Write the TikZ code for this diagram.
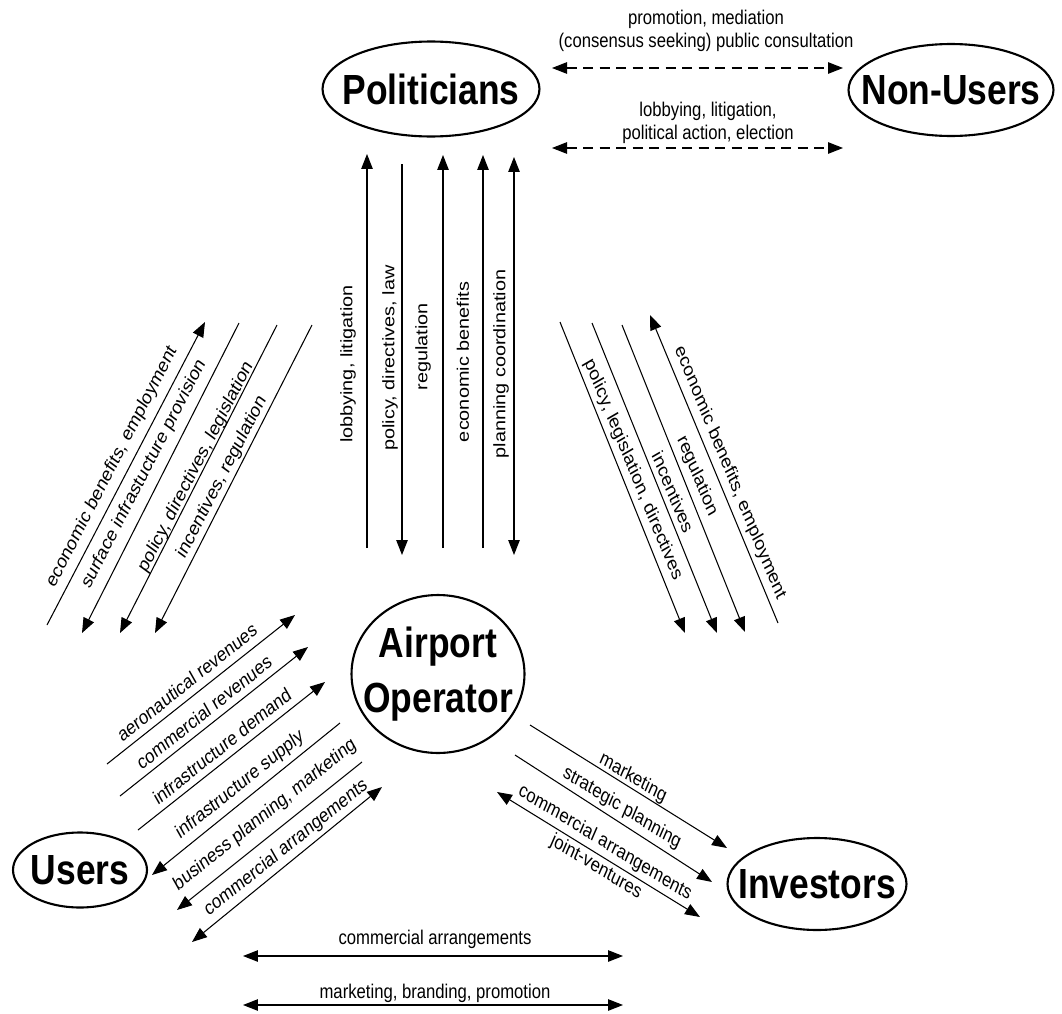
\documentclass[tikz,border=0pt]{standalone}
\usepackage{graphicx}
\usepackage{fontspec}
\setmainfont{Liberation Sans}
\usetikzlibrary{arrows.meta,shapes.geometric}
\newcommand\mylbl{\fontsize{11.3pt}{13.5pt}\selectfont}
\newcommand\mybig{\bfseries\fontsize{24pt}{31pt}\selectfont}
\newcommand\narrow[1]{\makebox[0pt]{\scalebox{0.84}[1]{#1}}}
\begin{document}
\begin{tikzpicture}[x=0.02cm, y=-0.02cm,
  >={Triangle[length=0.3cm,width=0.23cm]},
  ent/.style={ellipse, draw, line width=1.2pt, inner sep=0pt, font=\mybig},
  lbl/.style={font=\mylbl, inner sep=0pt, xscale=0.84},
  arr/.style={line width=0.6pt},
  dsh/.style={line width=0.6pt, dash pattern=on 0.2cm off 0.13cm}]
\useasboundingbox (0,0) rectangle (1062,1014);

% entities
\node[ent, minimum width=4.34cm, minimum height=1.9cm] (pol) at (431,89) {\narrow{Politicians}};
\node[ent, minimum width=4.1cm, minimum height=1.84cm] (non) at (951,90) {\narrow{Non-Users}};
\node[ent, minimum width=3.46cm, minimum height=3.16cm] (apt) at (438,674) {\narrow{\begin{tabular}{@{}c@{}}Airport\\Operator\end{tabular}}};
\node[ent, minimum width=2.68cm, minimum height=1.5cm] (usr) at (80,870) {\narrow{Users}};
\node[ent, minimum width=3.58cm, minimum height=1.84cm] (inv) at (817,884) {\narrow{Investors}};

% coordinates of connector ends
\coordinate (d1s) at (552,68);  \coordinate (d1e) at (843,68);
\coordinate (d2s) at (552,148); \coordinate (d2e) at (843,148);
\coordinate (v1s) at (367,548); \coordinate (v1e) at (367,154);
\coordinate (v2s) at (402,164); \coordinate (v2e) at (402,555);
\coordinate (v3s) at (443,548); \coordinate (v3e) at (443,155);
\coordinate (v4s) at (483,548); \coordinate (v4e) at (483,155);
\coordinate (v5s) at (514,157); \coordinate (v5e) at (514,555);
\coordinate (a1s) at (47,625);  \coordinate (a1e) at (205,322);
\coordinate (a2s) at (239,323); \coordinate (a2e) at (82,633);
\coordinate (a3s) at (277,325); \coordinate (a3e) at (120,633);
\coordinate (a4s) at (312,325); \coordinate (a4e) at (155,633);
\coordinate (b1s) at (560,322); \coordinate (b1e) at (685,633);
\coordinate (b2s) at (592,323); \coordinate (b2e) at (717,633);
\coordinate (b3s) at (622,325); \coordinate (b3e) at (745,632);
\coordinate (b4s) at (778,623); \coordinate (b4e) at (650,315);
\coordinate (u1s) at (107,764); \coordinate (u1e) at (295,615);
\coordinate (u2s) at (120,796); \coordinate (u2e) at (308,647);
\coordinate (u3s) at (138,830); \coordinate (u3e) at (325,682);
\coordinate (u4s) at (340,723); \coordinate (u4e) at (152,875);
\coordinate (u5s) at (362,762); \coordinate (u5e) at (177,910);
\coordinate (u6s) at (192,942); \coordinate (u6e) at (382,787);
\coordinate (i1s) at (530,725); \coordinate (i1e) at (727,848);
\coordinate (i2s) at (515,755); \coordinate (i2e) at (712,882);
\coordinate (i3s) at (497,792); \coordinate (i3e) at (700,917);
\coordinate (h1s) at (243,956); \coordinate (h1e) at (623,956);
\coordinate (h2s) at (243,1005); \coordinate (h2e) at (623,1005);

% connectors
\draw[dsh, <->] (d1s) -- (d1e);
\draw[dsh, <->] (d2s) -- (d2e);
\draw[arr, ->] (v1s) -- (v1e);
\draw[arr, ->] (v2s) -- (v2e);
\draw[arr, ->] (v3s) -- (v3e);
\draw[arr, ->] (v4s) -- (v4e);
\draw[arr, <->] (v5s) -- (v5e);
\draw[arr, ->] (a1s) -- (a1e);
\draw[arr, ->] (a2s) -- (a2e);
\draw[arr, ->] (a3s) -- (a3e);
\draw[arr, ->] (a4s) -- (a4e);
\draw[arr, ->] (b1s) -- (b1e);
\draw[arr, ->] (b2s) -- (b2e);
\draw[arr, ->] (b3s) -- (b3e);
\draw[arr, ->] (b4s) -- (b4e);
\draw[arr, ->] (u1s) -- (u1e);
\draw[arr, ->] (u2s) -- (u2e);
\draw[arr, ->] (u3s) -- (u3e);
\draw[arr, ->] (u4s) -- (u4e);
\draw[arr, ->] (u5s) -- (u5e);
\draw[arr, <->] (u6s) -- (u6e);
\draw[arr, ->] (i1s) -- (i1e);
\draw[arr, ->] (i2s) -- (i2e);
\draw[arr, <->] (i3s) -- (i3e);
\draw[arr, <->] (h1s) -- (h1e);
\draw[arr, <->] (h2s) -- (h2e);

% labels
\node[lbl, align=center] (lt1) at (706,31) {promotion, mediation\\(consensus seeking) public consultation};
\node[lbl, align=center] (lt2) at (708,123) {lobbying, litigation,\\political action, election};

\node[lbl, rotate=90] (lv1) at (348,364) {lobbying, litigation};
\node[lbl, rotate=90] (lv2) at (390,358) {policy, directives, law};
\node[lbl, rotate=90] (lv3) at (423,347) {regulation};
\node[lbl, rotate=90] (lv4) at (463,362) {economic benefits};
\node[lbl, rotate=90] (lv5) at (501,364) {planning coordination};

\node[lbl, rotate=58.5] (la1) at (112,467) {economic benefits, employment};
\node[lbl, rotate=58.5] (la2) at (144,474) {surface infrastucture provision};
\node[lbl, rotate=58.5] (la3) at (196,467) {policy, directives, legislation};
\node[lbl, rotate=58.5] (la4) at (222,477) {incentives, regulation};

\node[lbl, rotate=-64] (lb1) at (633,470) {policy, legislation, directives};
\node[lbl, rotate=-64] (lb2) at (673,492) {incentives};
\node[lbl, rotate=-64] (lb3) at (697,476) {regulation};
\node[lbl, rotate=-64] (lb4) at (730,473) {economic benefits, employment};

\node[lbl, rotate=34] (lu1) at (187,682) {aeronautical revenues};
\node[lbl, rotate=34] (lu2) at (204,712) {commercial revenues};
\node[lbl, rotate=34] (lu3) at (222,746) {infrastructure demand};
\node[lbl, rotate=34] (lu4) at (240,785) {infrastructure supply};
\node[lbl, rotate=34] (lu5) at (265,815) {business planning, marketing};
\node[lbl, rotate=34] (lu6) at (286,848) {commercial arrangements};

\node[lbl, rotate=-27.5] (li1) at (633,778) {marketing};
\node[lbl, rotate=-27.5] (li2) at (622,808) {strategic planning};
\node[lbl, rotate=-27.5] (li3) at (605,843) {commercial arrangements};
\node[lbl, rotate=-27.5] (li4) at (596,867) {joint-ventures};

\node[lbl] (lh1) at (435,939) {commercial arrangements};
\node[lbl] (lh2) at (435,993) {marketing, branding, promotion};
\end{tikzpicture}
\end{document}
